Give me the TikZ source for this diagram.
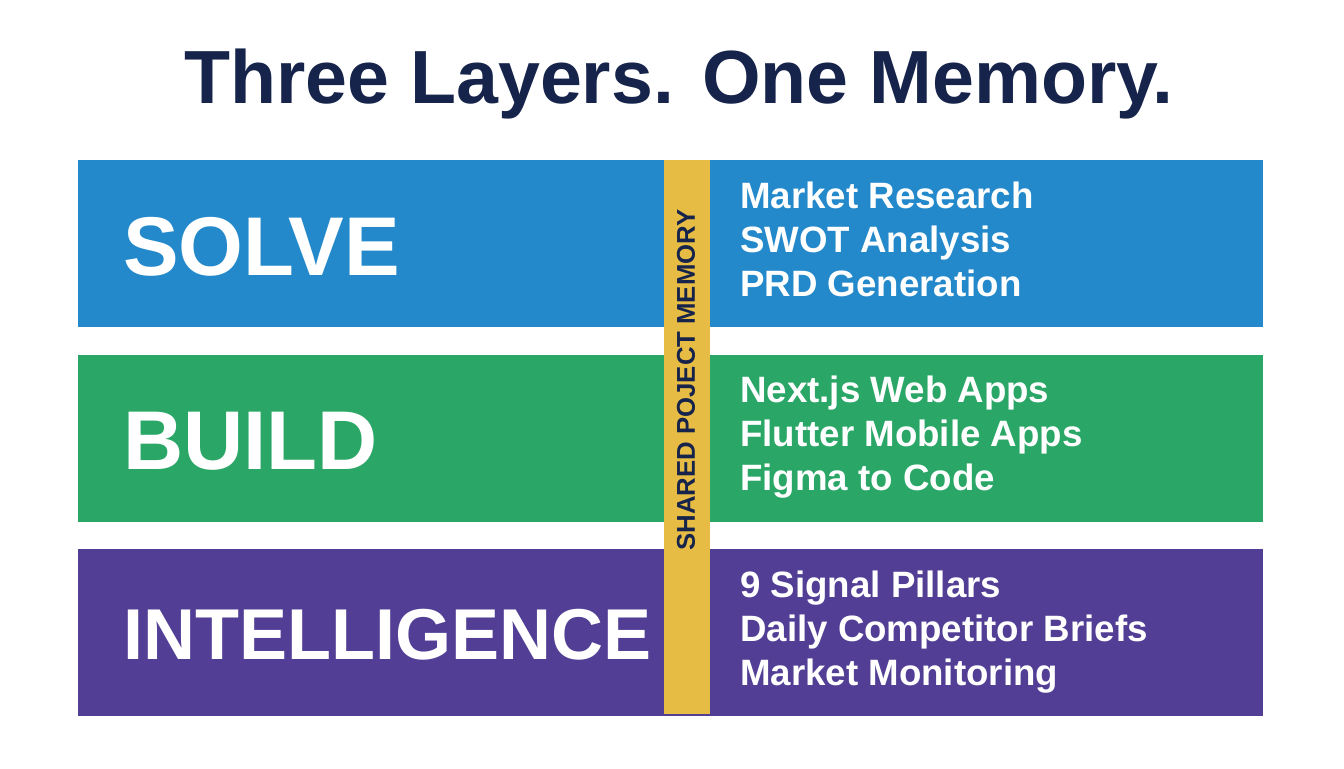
\documentclass[tikz,border=0pt]{standalone}
\usepackage{fontspec}
\setmainfont{Liberation Sans}
\usepackage{xcolor}
\usetikzlibrary{positioning}

\definecolor{navy}{HTML}{16234A}
\definecolor{solveblue}{HTML}{2389CB}
\definecolor{buildgreen}{HTML}{2AA766}
\definecolor{intelpurple}{HTML}{523F95}
\definecolor{memyellow}{HTML}{E7BC45}

\begin{document}
\begin{tikzpicture}[x=0.75pt, y=-0.75pt,
  band/.style={rectangle, inner sep=0pt, minimum width=888.75pt, minimum height=125.25pt},
  layer/.style={anchor=base west, inner sep=0pt, text=white, font=\bfseries\fontsize{#1}{#1}\selectfont},
  item/.style={anchor=base west, inner sep=0pt, text=white, font=\bfseries\fontsize{27.5}{27.5}\selectfont}]

\useasboundingbox (0,0) rectangle (1344,768);
\fill[white] (0,0) rectangle (1344,768);

\node [anchor=base, text=navy, font=\bfseries\fontsize{56.5}{56.5}\selectfont] (title) at (679,103) {Three Layers. One Memory.};

\foreach \c/\l/\s/\b [count=\i from 0] in {solveblue/SOLVE/62.5/275, buildgreen/BUILD/62.5/469, intelpurple/INTELLIGENCE/54/659} {
  \node [band, fill=\c] (band-\i) at (670.5, 243.5+194.5*\i) {};
  \node [layer=\s] (layer-\i) at (123,\b) {\l};
}

% shared memory bar
\node [rectangle, inner sep=0pt, fill=memyellow, minimum width=34.5pt, minimum height=415.5pt] (memory) at (687,437) {};
\node [rotate=90, inner sep=0pt, text=navy, font=\bfseries\fontsize{19.3}{19.3}\selectfont] (memory-label) at (686,380) {SHARED POJECT MEMORY};

\foreach \t [count=\k from 0] in {Market Research, SWOT Analysis, PRD Generation, Next.js Web Apps, Flutter Mobile Apps, Figma to Code, 9 Signal Pillars, Daily Competitor Briefs, Market Monitoring}
  \node [item] (item-\k) at (740, {208+194.5*int(\k/3)+44*mod(\k,3)}) {\t};

\end{tikzpicture}
\end{document}
